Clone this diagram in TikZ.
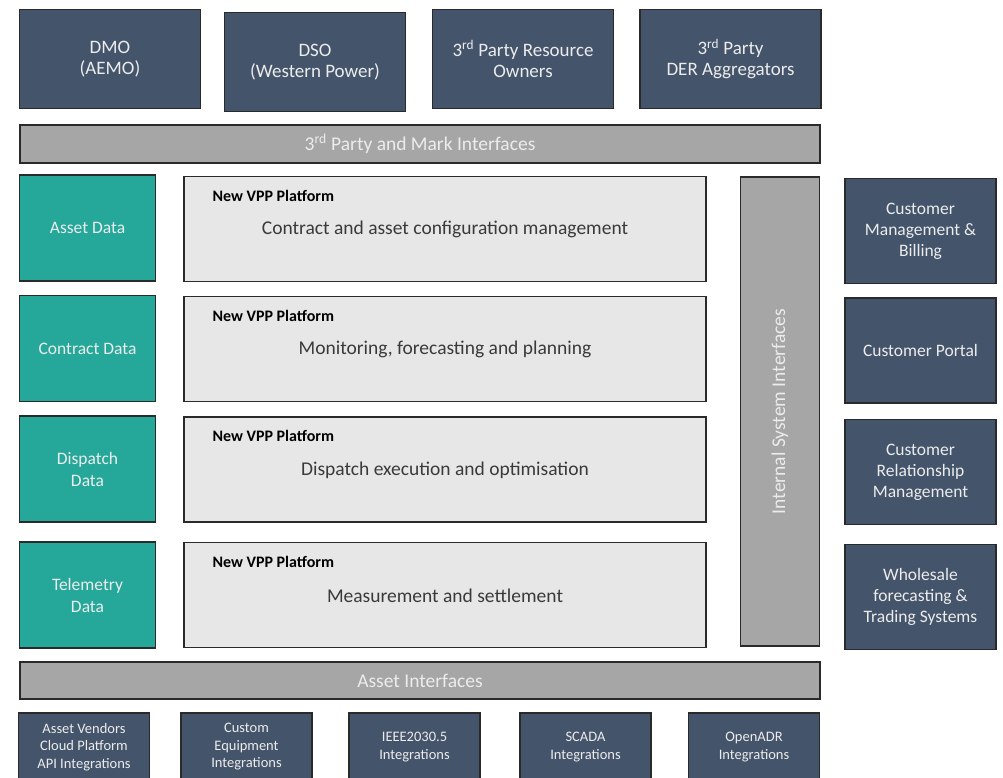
\documentclass[tikz,border=0pt]{standalone}
\usepackage{fontspec}
\setmainfont{Carlito}
\definecolor{slate}{HTML}{44546A}
\definecolor{tealc}{HTML}{25A89A}
\definecolor{barg}{HTML}{A6A6A6}
\definecolor{platg}{HTML}{E8E7E7}
\definecolor{edge}{HTML}{2A2A2A}
\definecolor{lighttxt}{HTML}{ECECEC}
\definecolor{darktxt}{HTML}{3A3A3A}
\begin{document}
\begin{tikzpicture}[x=1pt,y=-1pt,
  box/.style={draw=edge,line width=1.3pt,inner sep=0pt,align=center},
  darkbox/.style={box,fill=slate,text=lighttxt},
  topbox/.style={darkbox,minimum width=181pt,minimum height=99pt,font=\fontsize{19}{21}\selectfont},
  sidebox/.style={darkbox,minimum width=151pt,minimum height=105pt,font=\fontsize{17.5}{21}\selectfont},
  botbox/.style={darkbox,minimum width=131pt,minimum height=68pt,font=\fontsize{14.5}{17.5}\selectfont},
  databox/.style={box,fill=tealc,text=lighttxt,minimum width=136pt,minimum height=106pt,font=\fontsize{17.5}{22}\selectfont},
  platbox/.style={box,fill=platg,text=darktxt,minimum width=522pt,minimum height=105pt},
  barbox/.style={box,fill=barg,text=lighttxt,font=\fontsize{19.5}{22}\selectfont},
  vpp/.style={anchor=west,inner sep=0pt,font=\fontsize{16}{18}\bfseries\selectfont,text=black}
]
\useasboundingbox (0,0) rectangle (1003,778);
\fill[white] (0,0) rectangle (1003,778);

% top row
\node[topbox] (dmo) at (110,59) {DMO\\(AEMO)};
\node[topbox] (dso) at (315,62) {DSO\\(Western Power)};
\node[topbox] (tpro) at (523,59) {3\textsuperscript{rd} Party Resource\\Owners};
\node[topbox] (tpder) at (730.5,59) {3\textsuperscript{rd} Party\\DER Aggregators};

% top bar
\node[barbox,minimum width=800pt,minimum height=38pt] (tpbar) at (420,144) {3\textsuperscript{rd} Party and Mark Interfaces};

% data boxes
\node[databox] (asset) at (87.5,228) {Asset Data};
\node[databox] (contract) at (87.5,348.5) {Contract Data};
\node[databox] (dispatch) at (87.5,469) {Dispatch\\Data};
\node[databox] (telemetry) at (87.5,595) {Telemetry\\Data};

% platform boxes
\node[platbox] (p1) at (445,229) {};
\node[platbox] (p2) at (445,349) {};
\node[platbox] (p3) at (445,469.5) {};
\node[platbox] (p4) at (445,595) {};
\foreach \p/\t in {p1/{Contract and asset configuration management},
                   p2/{Monitoring, forecasting and planning},
                   p3/{Dispatch execution and optimisation},
                   p4/{Measurement and settlement}}{
  \node[vpp] (\p v) at ([xshift=29pt,yshift=-20pt]\p.north west) {New VPP Platform};
  \node[inner sep=0pt,text=darktxt,font=\fontsize{19.5}{22}\selectfont] (\p t) at ([yshift=-54pt]\p.north) {\t};
}

% internal system interfaces
\node[barbox,minimum width=79pt,minimum height=469pt] (isi) at (780,411.5) {};
\node[rotate=90,text=lighttxt,font=\fontsize{19.5}{22}\selectfont,inner sep=0pt] (isit) at (isi.center) {Internal System Interfaces};

% right boxes
\node[sidebox] (cmb) at (920.5,231) {Customer\\Management \&\\Billing};
\node[sidebox] (cp) at (920.5,350.5) {Customer Portal};
\node[sidebox] (crm) at (920.5,472) {Customer\\Relationship\\Management};
\node[sidebox] (wft) at (920.5,597) {Wholesale\\forecasting \&\\Trading Systems};

% asset interfaces bar
\node[barbox,minimum width=800pt,minimum height=37pt] (aibar) at (420,680.5) {Asset Interfaces};

% bottom boxes
\node[botbox] (b1) at (84,747) {Asset Vendors\\Cloud Platform\\API Integrations};
\node[botbox] (b2) at (246.5,747) {Custom\\Equipment\\Integrations};
\node[botbox] (b3) at (414.5,747) {IEEE2030.5\\Integrations};
\node[botbox] (b4) at (585.5,747) {SCADA\\Integrations};
\node[botbox] (b5) at (754,747) {OpenADR\\Integrations};
\end{tikzpicture}
\end{document}
